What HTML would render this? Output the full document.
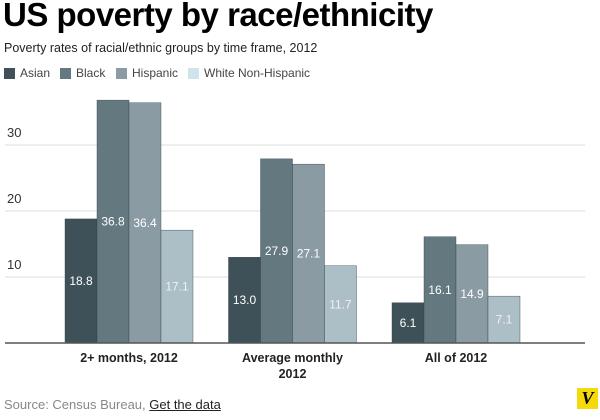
<!DOCTYPE html>
<html><head><meta charset="utf-8"><style>
body{margin:0;width:600px;height:420px;background:#fff;overflow:hidden;font-family:"Liberation Sans",sans-serif;position:relative}
.t{position:absolute;left:3px;top:-4px;font-size:33px;font-weight:bold;color:#000;letter-spacing:-0.5px}
.s{position:absolute;left:4px;top:41px;font-size:12.5px;color:#222}
.lg{position:absolute;top:66px;font-size:12px;color:#444;display:flex;align-items:center}
.lg i{display:inline-block;width:11px;height:11px;margin-right:5px}
.src{position:absolute;left:4px;top:397px;font-size:13px;color:#888}
.src u{color:#222}
</style></head><body>
<div class="t">US poverty by race/ethnicity</div>
<div class="s">Poverty rates of racial/ethnic groups by time frame, 2012</div>
<div class="lg" style="left:4px"><i style="background:#3f5158"></i>Asian</div>
<div class="lg" style="left:60px"><i style="background:#647880"></i>Black</div>
<div class="lg" style="left:116px"><i style="background:#8a9ba3"></i>Hispanic</div>
<div class="lg" style="left:188px"><i style="background:#cfe3ea"></i>White Non-Hispanic</div>
<svg id="c" width="600" height="420" style="position:absolute;left:0;top:0"></svg>
<div class="src">Source: Census Bureau, <u>Get the data</u></div>
<div style="position:absolute;left:577px;top:388px;width:21px;height:21px;background:#f5d90a;font:bold italic 18px 'Liberation Serif',serif;text-align:center;line-height:21px">V</div>
<script>
const categories=[["2+ months, 2012"],["Average monthly","2012"],["All of 2012"]];
const asian=[18.8,13.0,6.1];
const black=[36.8,27.9,16.1];
const hispanic=[36.4,27.1,14.9];
const white=[17.1,11.7,7.1];
const ticks=[10,20,30];
const ns="http://www.w3.org/2000/svg",svg=document.getElementById('c');
const base=343,per=6.6;
const y=v=>base-v*per;
const cx=i=>129+i*163.5;
function mk(t,a){const e=document.createElementNS(ns,t);for(const k in a)e.setAttribute(k,a[k]);svg.appendChild(e);return e;}
ticks.forEach(t=>{
 const l=mk('line',{x1:5,x2:585,y1:y(t),y2:y(t),stroke:'#ddd','stroke-width':1});
 
 
 const tx=mk('text',{x:7,y:y(t)-8,'font-size':13,fill:'#333'});tx.textContent=t;
 
 
});
const series=[["asian",asian,"#3f5158","#fff"],["black",black,"#647880","#fff"],["hispanic",hispanic,"#8a9ba3","#fff"],["white",white,"#adbfc6","#eef"]];
categories.forEach((c,i)=>{
 series.forEach((s,j)=>{
  const v=s[1][i],x=cx(i)-64+j*32;
  const r=mk('rect',{x:x,y:y(v),width:32,height:base-y(v),fill:s[2],stroke:'#33434a','stroke-width':0.4});
  
  
  const t=mk('text',{x:x+16,y:(y(v)+base)/2+4,'font-size':12,fill:s[3],'text-anchor':'middle'});t.textContent=v.toFixed(1);
  
  
 });
 c.forEach((line,k)=>{
  const t=mk('text',{x:cx(i),y:362+k*16,'font-size':12.5,'font-weight':'bold',fill:'#222','text-anchor':'middle'});t.textContent=line;
  
  
 });
});
const ax=mk('line',{x1:5,x2:585,y1:base,y2:base,stroke:'#555','stroke-width':1.5});


</script>
</body></html>
